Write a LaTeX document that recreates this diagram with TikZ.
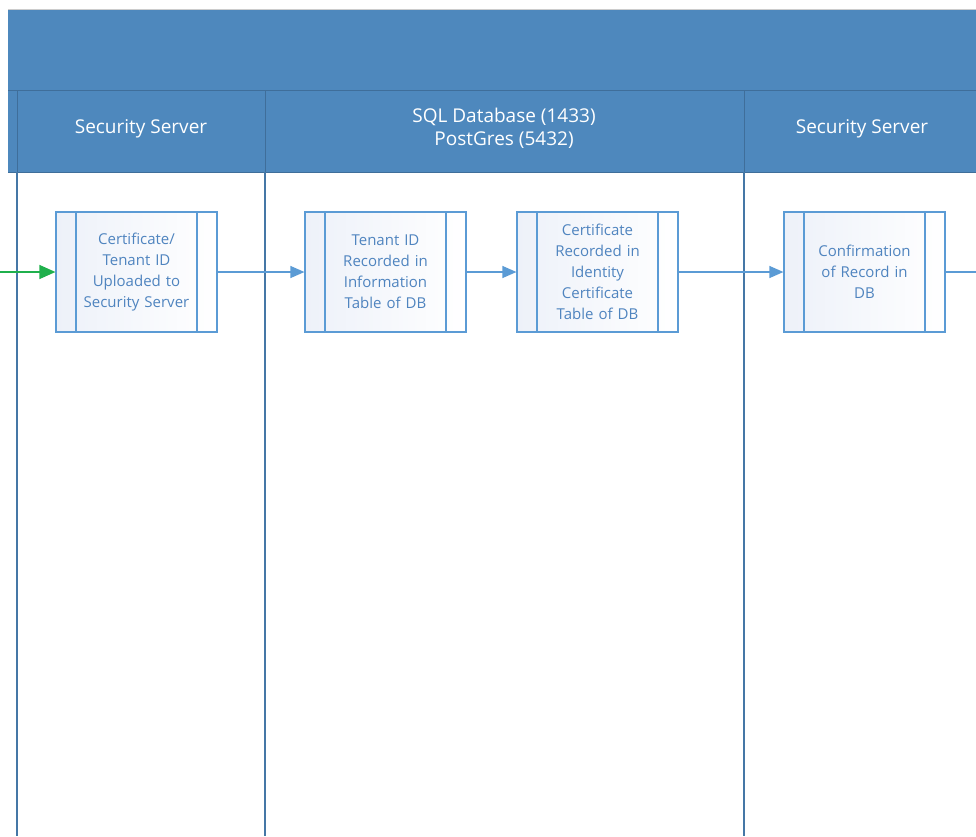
\documentclass[tikz,border=0pt]{standalone}
\usepackage{fontspec}
\setmainfont{Open Sans}
\usetikzlibrary{positioning,arrows.meta}

\definecolor{laneblue}{HTML}{4E88BD}
\definecolor{lanedark}{HTML}{3F6E9A}
\definecolor{lineblue}{HTML}{5B9BD5}
\definecolor{textblue}{HTML}{4F84BF}
\definecolor{procfill}{HTML}{EDF1F9}
\definecolor{flowgreen}{HTML}{1FB04C}

\tikzset{
  lanehead/.style={text=white, align=center, font=\fontsize{19}{23}\selectfont},
  procbox/.style={draw=lineblue, line width=1.2pt, minimum width=161pt, minimum height=120pt,
    text width=120pt, align=center, inner sep=0pt, text=textblue,
    font=\fontsize{15}{21}\selectfont, left color=procfill, right color=white,
    path picture={
      \draw[lineblue, line width=1.2pt] ([xshift=20pt]path picture bounding box.north west) -- ([xshift=20pt]path picture bounding box.south west);
      \draw[lineblue, line width=1.2pt] ([xshift=-20pt]path picture bounding box.north east) -- ([xshift=-20pt]path picture bounding box.south east);
    }},
  flow/.style={draw=lineblue, line width=1.2pt, -{Triangle[length=14pt,width=12pt]}}
}

\begin{document}
\begin{tikzpicture}[x=1pt,y=-1pt]
  \useasboundingbox (0,0) rectangle (976,836);
  % pool banner and lane headers
  \fill[laneblue] (8,9) rectangle (976,172);
  \draw[black!20] (8,9) -- (976,9);
  \draw[lanedark, line width=1pt] (8,90) -- (976,90);
  \draw[lanedark, line width=1pt] (8,172) -- (976,172);
  \foreach \xl in {17,265,744} {
    \draw[lanedark, line width=1pt] (\xl,90) -- (\xl,172);
    \draw[lanedark!80!lineblue, line width=1.5pt] (\xl,172) -- (\xl,836);
  }
  \node[lanehead] (hsec1) at (141,129) {Security Server};
  \node[lanehead] (hsql) at (504,128) {SQL Database (1433)\\PostGres (5432)};
  \node[lanehead] (hsec2) at (862,129) {Security Server};

  % process steps
  \node[procbox] (upload) at (136.5,272) {Certificate/\\Tenant ID\\Uploaded to\\Security Server};
  \node[procbox, right=86.8pt of upload] (tenant) {Tenant ID\\Recorded in\\Information\\Table of DB};
  \node[procbox, right=49.8pt of tenant] (identity) {Certificate\\Recorded in\\Identity\\Certificate\\Table of DB};
  \node[procbox, right=104.8pt of identity] (confirm) {Confirmation\\of Record in\\DB};

  \coordinate (in) at (0,272);
  \coordinate (out) at (976,272);
  \draw[flow, draw=flowgreen, color=flowgreen, line width=1.4pt, -{Triangle[length=16pt,width=14pt]}] (in) -- (upload);
  \draw[flow] (upload) -- (tenant);
  \draw[flow] (tenant) -- (identity);
  \draw[flow] (identity) -- (confirm);
  \draw[lineblue, line width=1.2pt] (confirm) -- (out);
\end{tikzpicture}
\end{document}
